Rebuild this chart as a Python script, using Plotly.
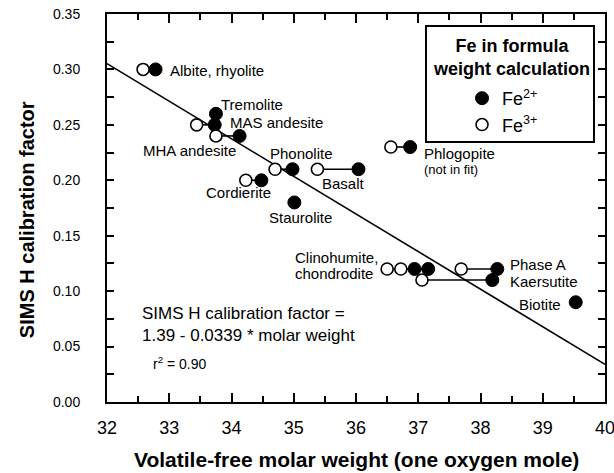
import plotly.graph_objects as go

# ---- data ----
minerals = ["Albite, rhyolite", "Tremolite", "MAS andesite", "MHA andesite", "Phonolite",
            "Cordierite", "Staurolite", "Basalt", "Phlogopite", "Clinohumite", "Chondrodite",
            "Phase A", "Kaersutite", "Biotite"]
fe2_x = [32.78, 33.75, 33.73, 34.13, 34.98, 34.48, 35.01, 36.04, 36.87, 36.94, 37.16, 38.27, 38.19, 39.53]
fe2_y = [0.30, 0.26, 0.25, 0.24, 0.21, 0.20, 0.18, 0.21, 0.23, 0.12, 0.12, 0.12, 0.11, 0.09]
fe3_x = [32.58, None, 33.44, 33.75, 34.70, 34.23, None, 35.38, 36.56, 36.50, 36.72, 37.69, 37.06, None]
fe3_y = [0.30, None, 0.25, 0.24, 0.21, 0.20, None, 0.21, 0.23, 0.12, 0.12, 0.12, 0.11, None]

fit_intercept = 1.39
fit_slope = -0.0339
x_range = [32, 40]

# label text, anchor position (data units) and alignment
labels = [
    ("Albite, rhyolite", 32.975, 0.299, "left", 15),
    ("Tremolite", 33.80, 0.268, "left", 15),
    ("MAS andesite", 33.95, 0.2524, "left", 15),
    ("MHA andesite", 34.11, 0.2267, "right", 15),
    ("Phonolite", 35.12, 0.2244, "center", 15),
    ("Cordierite", 34.12, 0.1888, "center", 15),
    ("Basalt", 35.80, 0.1967, "center", 15),
    ("Staurolite", 35.105, 0.1662, "center", 15),
    ("Phlogopite", 37.055, 0.2244, "left", 15),
    ("(not in fit)", 37.055, 0.2093, "left", 13),
    ("Clinohumite,", 36.39, 0.1304, "right", 15),
    ("chondrodite", 36.31, 0.1160, "right", 15),
    ("Phase A", 38.447, 0.1241, "left", 15),
    ("Kaersutite", 38.447, 0.1084, "left", 15),
    ("Biotite", 39.33, 0.0883, "right", 15),
]
eq_lines = [
    ("SIMS H calibration factor =<br>1.39 - 0.0339 * molar weight", 32.53, 0.0703, 17),
    ("r<sup>2</sup> = 0.90", 32.707, 0.0350, 14),
]

FONT = "Liberation Sans, Arial, sans-serif"

fig = go.Figure()

# regression line
fig.add_trace(go.Scatter(
    x=x_range, y=[fit_intercept + fit_slope * v for v in x_range],
    mode="lines", line=dict(color="black", width=1.6),
    showlegend=False, hoverinfo="skip"))

# connecting lines between Fe3+ and Fe2+ points of the same sample
cx, cy = [], []
for a, b, c, d in zip(fe3_x, fe3_y, fe2_x, fe2_y):
    if a is not None:
        cx += [a, c, None]
        cy += [b, d, None]
fig.add_trace(go.Scatter(x=cx, y=cy, mode="lines", line=dict(color="black", width=1.6),
                         showlegend=False, hoverinfo="skip"))

fig.add_trace(go.Scatter(
    x=fe2_x, y=fe2_y, mode="markers", name="Fe<sup>2+</sup>",
    marker=dict(symbol="circle", size=13, color="black", line=dict(color="black", width=1))))
fig.add_trace(go.Scatter(
    x=fe3_x, y=fe3_y, mode="markers", name="Fe<sup>3+</sup>",
    marker=dict(symbol="circle", size=12, color="white", line=dict(color="black", width=1.6))))

for text, x, y, anchor, size in labels:
    fig.add_annotation(x=x, y=y, text=text, showarrow=False, xanchor=anchor, yanchor="middle",
                       font=dict(size=size, color="black", family=FONT))
for text, x, y, size in eq_lines:
    fig.add_annotation(x=x, y=y, text=text, showarrow=False, xanchor="left", yanchor="middle",
                       align="left", font=dict(size=size, color="black", family=FONT))

# axis titles
fig.add_annotation(xref="paper", yref="paper", x=0.5, y=-0.1478,
                   text="<b>Volatile-free molar weight (one oxygen mole)</b>", showarrow=False,
                   xanchor="center", yanchor="middle", font=dict(size=21, color="black", family=FONT))
fig.add_annotation(xref="paper", yref="paper", x=-0.1606, y=0.4687, textangle=-90,
                   text="<b>SIMS H calibration factor</b>", showarrow=False,
                   xanchor="center", yanchor="middle", font=dict(size=20, color="black", family=FONT))

# legend box and title
fig.add_shape(type="rect", xref="paper", yref="paper", x0=0.6406, x1=0.9779, y0=0.6698, y1=0.969,
              line=dict(color="black", width=2), fillcolor="white", layer="below")
fig.add_annotation(xref="paper", yref="paper", x=0.8127, y=0.889,
                   text="<b>Fe in formula<br>weight calculation</b>", showarrow=False,
                   xanchor="center", yanchor="middle", font=dict(size=18, color="black", family=FONT))

axis_common = dict(showline=True, linewidth=2, linecolor="black", mirror="ticks",
                   showgrid=False, zeroline=False, ticks="inside", tickwidth=2,
                   tickcolor="black", ticklabeloverflow="allow")

fig.update_xaxes(range=x_range, dtick=1, ticklen=9,
                 minor=dict(dtick=0.5, ticks="inside", ticklen=6, tickwidth=2, tickcolor="black"),
                 tickfont=dict(size=18, color="black", family=FONT), ticklabelstandoff=8,
                 **axis_common)
fig.update_yaxes(range=[0, 0.35], dtick=0.05, tickformat=".2f", ticklen=7,
                 minor=dict(dtick=0.025, ticks="inside", ticklen=7, tickwidth=2, tickcolor="black"),
                 tickfont=dict(size=14, color="black", family=FONT), ticklabelstandoff=22,
                 **axis_common)

fig.update_layout(
    width=614, height=473,
    margin=dict(l=107, r=9, t=14, b=71, autoexpand=False),
    plot_bgcolor="white", paper_bgcolor="white",
    font=dict(family=FONT, color="black"),
    showlegend=True,
    legend=dict(x=0.7129, y=0.830, xanchor="left", yanchor="top",
                bgcolor="rgba(0,0,0,0)", borderwidth=0,
                font=dict(size=18, color="black", family=FONT),
                tracegroupgap=0),
)

fig.write_html("out.html")
